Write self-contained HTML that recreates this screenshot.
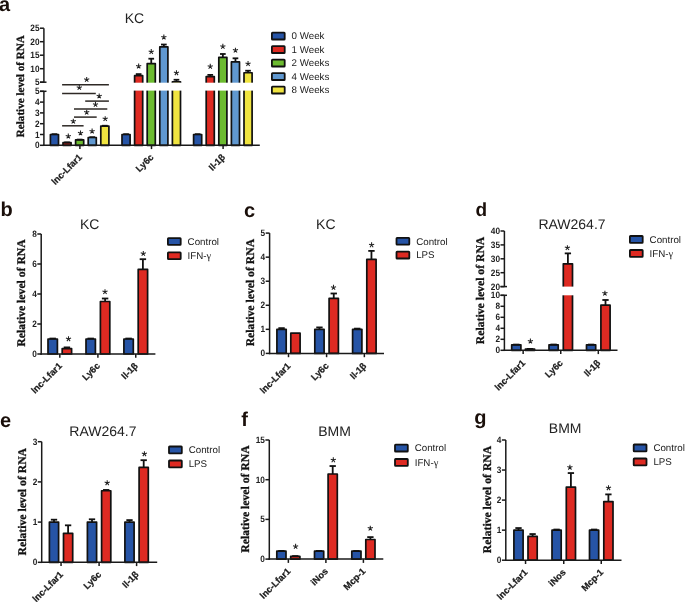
<!DOCTYPE html>
<html><head><meta charset="utf-8"><style>
html,body{margin:0;padding:0;background:#fff;}
svg{display:block;will-change:transform;}
</style></head><body>
<svg width="685" height="602" viewBox="0 0 685 602" text-rendering="geometricPrecision">
<rect width="685" height="602" fill="#fff"/>
<text x="-0.90" y="10.80" font-family="Liberation Sans" font-size="20" font-weight="bold" text-anchor="start" fill="#1a0f0a" >a</text>
<text x="134.40" y="22.80" font-family="Liberation Sans" font-size="14" font-weight="normal" text-anchor="middle" fill="#222" >KC</text>
<rect x="50.40" y="134.50" width="8.10" height="10.80" fill="#2654a6" stroke="#111" stroke-width="1.7" stroke-linejoin="round"/>
<line x1="54.45" y1="134.50" x2="54.45" y2="134.18" stroke="#111" stroke-width="1.8"/>
<line x1="51.61" y1="134.18" x2="57.29" y2="134.18" stroke="#111" stroke-width="1.8"/>
<rect x="63.00" y="142.71" width="8.10" height="2.59" fill="#de2a22" stroke="#111" stroke-width="1.7" stroke-linejoin="round"/>
<line x1="67.05" y1="142.71" x2="67.05" y2="142.38" stroke="#111" stroke-width="1.8"/>
<line x1="64.21" y1="142.38" x2="69.89" y2="142.38" stroke="#111" stroke-width="1.8"/>
<path d="M68.30 136.23L68.30 133.53M68.30 136.23L65.73 135.40M68.30 136.23L66.71 138.41M68.30 136.23L69.89 138.41M68.30 136.23L70.87 135.40" stroke="#222" stroke-width="1.05" stroke-linecap="butt" fill="none"/>
<rect x="75.60" y="139.90" width="8.10" height="5.40" fill="#6cbb30" stroke="#111" stroke-width="1.7" stroke-linejoin="round"/>
<line x1="79.65" y1="139.90" x2="79.65" y2="139.58" stroke="#111" stroke-width="1.8"/>
<line x1="76.81" y1="139.58" x2="82.49" y2="139.58" stroke="#111" stroke-width="1.8"/>
<path d="M80.50 133.13L80.50 130.43M80.50 133.13L77.93 132.30M80.50 133.13L78.91 135.31M80.50 133.13L82.09 135.31M80.50 133.13L83.07 132.30" stroke="#222" stroke-width="1.05" stroke-linecap="butt" fill="none"/>
<rect x="88.20" y="137.52" width="8.10" height="7.78" fill="#6098d0" stroke="#111" stroke-width="1.7" stroke-linejoin="round"/>
<line x1="92.25" y1="137.52" x2="92.25" y2="137.20" stroke="#111" stroke-width="1.8"/>
<line x1="89.41" y1="137.20" x2="95.09" y2="137.20" stroke="#111" stroke-width="1.8"/>
<path d="M92.10 131.23L92.10 128.53M92.10 131.23L89.53 130.40M92.10 131.23L90.51 133.41M92.10 131.23L93.69 133.41M92.10 131.23L94.67 130.40" stroke="#222" stroke-width="1.05" stroke-linecap="butt" fill="none"/>
<rect x="100.80" y="126.08" width="8.10" height="19.22" fill="#f0e440" stroke="#111" stroke-width="1.7" stroke-linejoin="round"/>
<line x1="104.85" y1="126.08" x2="104.85" y2="125.75" stroke="#111" stroke-width="1.8"/>
<line x1="102.01" y1="125.75" x2="107.69" y2="125.75" stroke="#111" stroke-width="1.8"/>
<path d="M105.20 118.83L105.20 116.13M105.20 118.83L102.63 118.00M105.20 118.83L103.61 121.01M105.20 118.83L106.79 121.01M105.20 118.83L107.77 118.00" stroke="#222" stroke-width="1.05" stroke-linecap="butt" fill="none"/>
<rect x="122.00" y="134.50" width="8.10" height="10.80" fill="#2654a6" stroke="#111" stroke-width="1.7" stroke-linejoin="round"/>
<line x1="126.05" y1="134.50" x2="126.05" y2="134.18" stroke="#111" stroke-width="1.8"/>
<line x1="123.21" y1="134.18" x2="128.89" y2="134.18" stroke="#111" stroke-width="1.8"/>
<rect x="134.60" y="75.72" width="8.10" height="69.58" fill="#de2a22" stroke="#111" stroke-width="1.7" stroke-linejoin="round"/>
<line x1="138.65" y1="75.72" x2="138.65" y2="74.10" stroke="#111" stroke-width="1.8"/>
<line x1="135.81" y1="74.10" x2="141.49" y2="74.10" stroke="#111" stroke-width="1.8"/>
<path d="M138.65 66.23L138.65 63.53M138.65 66.23L136.08 65.40M138.65 66.23L137.06 68.41M138.65 66.23L140.24 68.41M138.65 66.23L141.22 65.40" stroke="#222" stroke-width="1.05" stroke-linecap="butt" fill="none"/>
<rect x="147.20" y="63.57" width="8.10" height="81.73" fill="#6cbb30" stroke="#111" stroke-width="1.7" stroke-linejoin="round"/>
<line x1="151.25" y1="63.57" x2="151.25" y2="58.71" stroke="#111" stroke-width="1.8"/>
<line x1="148.41" y1="58.71" x2="154.09" y2="58.71" stroke="#111" stroke-width="1.8"/>
<path d="M151.25 51.73L151.25 49.03M151.25 51.73L148.68 50.90M151.25 51.73L149.66 53.91M151.25 51.73L152.84 53.91M151.25 51.73L153.82 50.90" stroke="#222" stroke-width="1.05" stroke-linecap="butt" fill="none"/>
<rect x="159.80" y="46.83" width="8.10" height="98.47" fill="#6098d0" stroke="#111" stroke-width="1.7" stroke-linejoin="round"/>
<line x1="163.85" y1="46.83" x2="163.85" y2="44.53" stroke="#111" stroke-width="1.8"/>
<line x1="161.01" y1="44.53" x2="166.69" y2="44.53" stroke="#111" stroke-width="1.8"/>
<path d="M163.85 37.23L163.85 34.53M163.85 37.23L161.28 36.40M163.85 37.23L162.26 39.41M163.85 37.23L165.44 39.41M163.85 37.23L166.42 36.40" stroke="#222" stroke-width="1.05" stroke-linecap="butt" fill="none"/>
<rect x="172.40" y="81.80" width="8.10" height="63.51" fill="#f0e440" stroke="#111" stroke-width="1.7" stroke-linejoin="round"/>
<line x1="176.45" y1="81.80" x2="176.45" y2="79.77" stroke="#111" stroke-width="1.8"/>
<line x1="173.61" y1="79.77" x2="179.29" y2="79.77" stroke="#111" stroke-width="1.8"/>
<path d="M176.45 72.93L176.45 70.23M176.45 72.93L173.88 72.10M176.45 72.93L174.86 75.11M176.45 72.93L178.04 75.11M176.45 72.93L179.02 72.10" stroke="#222" stroke-width="1.05" stroke-linecap="butt" fill="none"/>
<rect x="193.60" y="134.50" width="8.10" height="10.80" fill="#2654a6" stroke="#111" stroke-width="1.7" stroke-linejoin="round"/>
<line x1="197.65" y1="134.50" x2="197.65" y2="134.18" stroke="#111" stroke-width="1.8"/>
<line x1="194.81" y1="134.18" x2="200.49" y2="134.18" stroke="#111" stroke-width="1.8"/>
<rect x="206.20" y="76.53" width="8.10" height="68.77" fill="#de2a22" stroke="#111" stroke-width="1.7" stroke-linejoin="round"/>
<line x1="210.25" y1="76.53" x2="210.25" y2="74.91" stroke="#111" stroke-width="1.8"/>
<line x1="207.41" y1="74.91" x2="213.09" y2="74.91" stroke="#111" stroke-width="1.8"/>
<path d="M210.25 66.53L210.25 63.83M210.25 66.53L207.68 65.70M210.25 66.53L208.66 68.71M210.25 66.53L211.84 68.71M210.25 66.53L212.82 65.70" stroke="#222" stroke-width="1.05" stroke-linecap="butt" fill="none"/>
<rect x="218.80" y="57.36" width="8.10" height="87.94" fill="#6cbb30" stroke="#111" stroke-width="1.7" stroke-linejoin="round"/>
<line x1="222.85" y1="57.36" x2="222.85" y2="53.99" stroke="#111" stroke-width="1.8"/>
<line x1="220.01" y1="53.99" x2="225.69" y2="53.99" stroke="#111" stroke-width="1.8"/>
<path d="M222.85 46.53L222.85 43.83M222.85 46.53L220.28 45.70M222.85 46.53L221.26 48.71M222.85 46.53L224.44 48.71M222.85 46.53L225.42 45.70" stroke="#222" stroke-width="1.05" stroke-linecap="butt" fill="none"/>
<rect x="231.40" y="61.95" width="8.10" height="83.35" fill="#6098d0" stroke="#111" stroke-width="1.7" stroke-linejoin="round"/>
<line x1="235.45" y1="61.95" x2="235.45" y2="58.31" stroke="#111" stroke-width="1.8"/>
<line x1="232.61" y1="58.31" x2="238.29" y2="58.31" stroke="#111" stroke-width="1.8"/>
<path d="M235.45 50.33L235.45 47.63M235.45 50.33L232.88 49.50M235.45 50.33L233.86 52.51M235.45 50.33L237.04 52.51M235.45 50.33L238.02 49.50" stroke="#222" stroke-width="1.05" stroke-linecap="butt" fill="none"/>
<rect x="244.00" y="72.75" width="8.10" height="72.55" fill="#f0e440" stroke="#111" stroke-width="1.7" stroke-linejoin="round"/>
<line x1="248.05" y1="72.75" x2="248.05" y2="70.73" stroke="#111" stroke-width="1.8"/>
<line x1="245.21" y1="70.73" x2="250.89" y2="70.73" stroke="#111" stroke-width="1.8"/>
<path d="M248.05 63.73L248.05 61.03M248.05 63.73L245.48 62.90M248.05 63.73L246.46 65.91M248.05 63.73L249.64 65.91M248.05 63.73L250.62 62.90" stroke="#222" stroke-width="1.05" stroke-linecap="butt" fill="none"/>
<rect x="115.00" y="82.70" width="143.00" height="7.90" fill="#fff"/>
<line x1="43.90" y1="146.05" x2="43.90" y2="91.30" stroke="#1a1a1a" stroke-width="1.5"/>
<line x1="43.90" y1="82.20" x2="43.90" y2="28.20" stroke="#1a1a1a" stroke-width="1.5"/>
<line x1="40.00" y1="91.30" x2="46.50" y2="91.30" stroke="#1a1a1a" stroke-width="1.5"/>
<line x1="40.00" y1="82.20" x2="46.50" y2="82.20" stroke="#1a1a1a" stroke-width="1.5"/>
<line x1="40.00" y1="145.30" x2="43.90" y2="145.30" stroke="#1a1a1a" stroke-width="1.5"/>
<text x="0" y="0" font-family="Liberation Sans" font-size="9.2" font-weight="bold" text-anchor="end" fill="#222" transform="translate(39.50 148.38) scale(0.9 1)">0</text>
<line x1="40.00" y1="134.50" x2="43.90" y2="134.50" stroke="#1a1a1a" stroke-width="1.5"/>
<text x="0" y="0" font-family="Liberation Sans" font-size="9.2" font-weight="bold" text-anchor="end" fill="#222" transform="translate(39.50 137.58) scale(0.9 1)">1</text>
<line x1="40.00" y1="123.70" x2="43.90" y2="123.70" stroke="#1a1a1a" stroke-width="1.5"/>
<text x="0" y="0" font-family="Liberation Sans" font-size="9.2" font-weight="bold" text-anchor="end" fill="#222" transform="translate(39.50 126.78) scale(0.9 1)">2</text>
<line x1="40.00" y1="112.90" x2="43.90" y2="112.90" stroke="#1a1a1a" stroke-width="1.5"/>
<text x="0" y="0" font-family="Liberation Sans" font-size="9.2" font-weight="bold" text-anchor="end" fill="#222" transform="translate(39.50 115.98) scale(0.9 1)">3</text>
<line x1="40.00" y1="102.10" x2="43.90" y2="102.10" stroke="#1a1a1a" stroke-width="1.5"/>
<text x="0" y="0" font-family="Liberation Sans" font-size="9.2" font-weight="bold" text-anchor="end" fill="#222" transform="translate(39.50 105.18) scale(0.9 1)">4</text>
<line x1="40.00" y1="91.30" x2="43.90" y2="91.30" stroke="#1a1a1a" stroke-width="1.5"/>
<text x="0" y="0" font-family="Liberation Sans" font-size="9.2" font-weight="bold" text-anchor="end" fill="#222" transform="translate(39.50 94.38) scale(0.9 1)">5</text>
<line x1="40.00" y1="82.20" x2="43.90" y2="82.20" stroke="#1a1a1a" stroke-width="1.5"/>
<text x="0" y="0" font-family="Liberation Sans" font-size="9.2" font-weight="bold" text-anchor="end" fill="#222" transform="translate(39.50 85.28) scale(0.9 1)">5</text>
<line x1="40.00" y1="68.70" x2="43.90" y2="68.70" stroke="#1a1a1a" stroke-width="1.5"/>
<text x="0" y="0" font-family="Liberation Sans" font-size="9.2" font-weight="bold" text-anchor="end" fill="#222" transform="translate(39.50 71.78) scale(0.9 1)">10</text>
<line x1="40.00" y1="55.20" x2="43.90" y2="55.20" stroke="#1a1a1a" stroke-width="1.5"/>
<text x="0" y="0" font-family="Liberation Sans" font-size="9.2" font-weight="bold" text-anchor="end" fill="#222" transform="translate(39.50 58.28) scale(0.9 1)">15</text>
<line x1="40.00" y1="41.70" x2="43.90" y2="41.70" stroke="#1a1a1a" stroke-width="1.5"/>
<text x="0" y="0" font-family="Liberation Sans" font-size="9.2" font-weight="bold" text-anchor="end" fill="#222" transform="translate(39.50 44.78) scale(0.9 1)">20</text>
<line x1="40.00" y1="28.20" x2="43.90" y2="28.20" stroke="#1a1a1a" stroke-width="1.5"/>
<text x="0" y="0" font-family="Liberation Sans" font-size="9.2" font-weight="bold" text-anchor="end" fill="#222" transform="translate(39.50 31.28) scale(0.9 1)">25</text>
<line x1="43.15" y1="145.30" x2="259.80" y2="145.30" stroke="#1a1a1a" stroke-width="1.5"/>
<line x1="79.90" y1="145.30" x2="79.90" y2="149.10" stroke="#1a1a1a" stroke-width="1.5"/>
<text x="82.60" y="157.80" font-family="Liberation Sans" font-size="9.2" font-weight="bold" text-anchor="end" fill="#1a1a1a" stroke="#1a1a1a" stroke-width="0.25" transform="rotate(-45 82.60 157.80)">lnc-Lfar1</text>
<line x1="151.50" y1="145.30" x2="151.50" y2="149.10" stroke="#1a1a1a" stroke-width="1.5"/>
<text x="154.20" y="157.80" font-family="Liberation Sans" font-size="9.2" font-weight="bold" text-anchor="end" fill="#1a1a1a" stroke="#1a1a1a" stroke-width="0.25" transform="rotate(-45 154.20 157.80)">Ly6c</text>
<line x1="223.10" y1="145.30" x2="223.10" y2="149.10" stroke="#1a1a1a" stroke-width="1.5"/>
<text x="225.80" y="157.80" font-family="Liberation Sans" font-size="9.2" font-weight="bold" text-anchor="end" fill="#1a1a1a" stroke="#1a1a1a" stroke-width="0.25" transform="rotate(-45 225.80 157.80)">Il-1&#946;</text>
<line x1="62.10" y1="84.70" x2="108.90" y2="84.70" stroke="#2e2925" stroke-width="1.5"/>
<line x1="62.10" y1="93.40" x2="95.80" y2="93.40" stroke="#2e2925" stroke-width="1.5"/>
<line x1="85.20" y1="101.10" x2="108.90" y2="101.10" stroke="#2e2925" stroke-width="1.5"/>
<line x1="74.00" y1="109.00" x2="107.30" y2="109.00" stroke="#2e2925" stroke-width="1.5"/>
<line x1="74.00" y1="117.10" x2="96.70" y2="117.10" stroke="#2e2925" stroke-width="1.5"/>
<line x1="62.10" y1="125.80" x2="83.60" y2="125.80" stroke="#2e2925" stroke-width="1.5"/>
<path d="M86.70 79.63L86.70 76.93M86.70 79.63L84.13 78.80M86.70 79.63L85.11 81.81M86.70 79.63L88.29 81.81M86.70 79.63L89.27 78.80" stroke="#222" stroke-width="1.05" stroke-linecap="butt" fill="none"/>
<path d="M79.30 87.63L79.30 84.93M79.30 87.63L76.73 86.80M79.30 87.63L77.71 89.81M79.30 87.63L80.89 89.81M79.30 87.63L81.87 86.80" stroke="#222" stroke-width="1.05" stroke-linecap="butt" fill="none"/>
<path d="M99.20 96.13L99.20 93.43M99.20 96.13L96.63 95.30M99.20 96.13L97.61 98.31M99.20 96.13L100.79 98.31M99.20 96.13L101.77 95.30" stroke="#222" stroke-width="1.05" stroke-linecap="butt" fill="none"/>
<path d="M95.50 104.53L95.50 101.83M95.50 104.53L92.93 103.70M95.50 104.53L93.91 106.71M95.50 104.53L97.09 106.71M95.50 104.53L98.07 103.70" stroke="#222" stroke-width="1.05" stroke-linecap="butt" fill="none"/>
<path d="M86.70 112.33L86.70 109.63M86.70 112.33L84.13 111.50M86.70 112.33L85.11 114.51M86.70 112.33L88.29 114.51M86.70 112.33L89.27 111.50" stroke="#222" stroke-width="1.05" stroke-linecap="butt" fill="none"/>
<path d="M73.30 121.33L73.30 118.63M73.30 121.33L70.73 120.50M73.30 121.33L71.71 123.51M73.30 121.33L74.89 123.51M73.30 121.33L75.87 120.50" stroke="#222" stroke-width="1.05" stroke-linecap="butt" fill="none"/>
<text x="24.10" y="86.20" font-family="Liberation Serif" font-size="11.1" font-weight="bold" text-anchor="middle" fill="#111" stroke="#111" stroke-width="0.3" transform="rotate(-90 24.10 86.20)">Relative level of RNA</text>
<rect x="271.90" y="32.70" width="12.80" height="6.80" rx="0.6" fill="#2654a6" stroke="#111" stroke-width="1.8"/>
<text x="291.60" y="39.40" font-family="Liberation Sans" font-size="9.75" font-weight="normal" text-anchor="start" fill="#222" >0 Week</text>
<rect x="271.90" y="46.20" width="12.80" height="6.80" rx="0.6" fill="#de2a22" stroke="#111" stroke-width="1.8"/>
<text x="291.60" y="52.90" font-family="Liberation Sans" font-size="9.75" font-weight="normal" text-anchor="start" fill="#222" >1 Week</text>
<rect x="271.90" y="59.70" width="12.80" height="6.80" rx="0.6" fill="#6cbb30" stroke="#111" stroke-width="1.8"/>
<text x="291.60" y="66.40" font-family="Liberation Sans" font-size="9.75" font-weight="normal" text-anchor="start" fill="#222" >2 Weeks</text>
<rect x="271.90" y="73.20" width="12.80" height="6.80" rx="0.6" fill="#6098d0" stroke="#111" stroke-width="1.8"/>
<text x="291.60" y="79.90" font-family="Liberation Sans" font-size="9.75" font-weight="normal" text-anchor="start" fill="#222" >4 Weeks</text>
<rect x="271.90" y="86.70" width="12.80" height="6.80" rx="0.6" fill="#f0e440" stroke="#111" stroke-width="1.8"/>
<text x="291.60" y="93.40" font-family="Liberation Sans" font-size="9.75" font-weight="normal" text-anchor="start" fill="#222" >8 Weeks</text>
<text x="0.40" y="215.80" font-family="Liberation Sans" font-size="20" font-weight="bold" text-anchor="start" fill="#1a0f0a" >b</text>
<text x="89.70" y="228.90" font-family="Liberation Sans" font-size="14" font-weight="normal" text-anchor="middle" fill="#222" >KC</text>
<rect x="48.00" y="339.00" width="9.40" height="15.00" fill="#2654a6" stroke="#111" stroke-width="1.7" stroke-linejoin="round"/>
<line x1="52.70" y1="339.00" x2="52.70" y2="338.55" stroke="#111" stroke-width="1.8"/>
<line x1="49.48" y1="338.55" x2="55.92" y2="338.55" stroke="#111" stroke-width="1.8"/>
<rect x="62.20" y="348.60" width="9.40" height="5.40" fill="#de2a22" stroke="#111" stroke-width="1.7" stroke-linejoin="round"/>
<line x1="66.90" y1="348.60" x2="66.90" y2="347.40" stroke="#111" stroke-width="1.8"/>
<line x1="63.68" y1="347.40" x2="70.12" y2="347.40" stroke="#111" stroke-width="1.8"/>
<path d="M68.50 338.93L68.50 336.23M68.50 338.93L65.93 338.10M68.50 338.93L66.91 341.11M68.50 338.93L70.09 341.11M68.50 338.93L71.07 338.10" stroke="#222" stroke-width="1.05" stroke-linecap="butt" fill="none"/>
<rect x="86.00" y="339.00" width="9.40" height="15.00" fill="#2654a6" stroke="#111" stroke-width="1.7" stroke-linejoin="round"/>
<line x1="90.70" y1="339.00" x2="90.70" y2="338.55" stroke="#111" stroke-width="1.8"/>
<line x1="87.48" y1="338.55" x2="93.92" y2="338.55" stroke="#111" stroke-width="1.8"/>
<rect x="100.40" y="301.50" width="9.40" height="52.50" fill="#de2a22" stroke="#111" stroke-width="1.7" stroke-linejoin="round"/>
<line x1="105.10" y1="301.50" x2="105.10" y2="298.50" stroke="#111" stroke-width="1.8"/>
<line x1="101.88" y1="298.50" x2="108.32" y2="298.50" stroke="#111" stroke-width="1.8"/>
<path d="M105.00 291.83L105.00 289.13M105.00 291.83L102.43 291.00M105.00 291.83L103.41 294.01M105.00 291.83L106.59 294.01M105.00 291.83L107.57 291.00" stroke="#222" stroke-width="1.05" stroke-linecap="butt" fill="none"/>
<rect x="123.90" y="339.00" width="9.40" height="15.00" fill="#2654a6" stroke="#111" stroke-width="1.7" stroke-linejoin="round"/>
<line x1="128.60" y1="339.00" x2="128.60" y2="338.55" stroke="#111" stroke-width="1.8"/>
<line x1="125.38" y1="338.55" x2="131.82" y2="338.55" stroke="#111" stroke-width="1.8"/>
<rect x="138.20" y="269.40" width="9.40" height="84.60" fill="#de2a22" stroke="#111" stroke-width="1.7" stroke-linejoin="round"/>
<line x1="142.90" y1="269.40" x2="142.90" y2="259.20" stroke="#111" stroke-width="1.8"/>
<line x1="139.68" y1="259.20" x2="146.12" y2="259.20" stroke="#111" stroke-width="1.8"/>
<path d="M143.30 253.63L143.30 250.93M143.30 253.63L140.73 252.80M143.30 253.63L141.71 255.81M143.30 253.63L144.89 255.81M143.30 253.63L145.87 252.80" stroke="#222" stroke-width="1.05" stroke-linecap="butt" fill="none"/>
<line x1="41.20" y1="354.75" x2="41.20" y2="234.00" stroke="#1a1a1a" stroke-width="1.5"/>
<line x1="37.30" y1="354.00" x2="41.20" y2="354.00" stroke="#1a1a1a" stroke-width="1.5"/>
<text x="0" y="0" font-family="Liberation Sans" font-size="9.2" font-weight="bold" text-anchor="end" fill="#222" transform="translate(36.80 357.08) scale(0.9 1)">0</text>
<line x1="37.30" y1="324.00" x2="41.20" y2="324.00" stroke="#1a1a1a" stroke-width="1.5"/>
<text x="0" y="0" font-family="Liberation Sans" font-size="9.2" font-weight="bold" text-anchor="end" fill="#222" transform="translate(36.80 327.08) scale(0.9 1)">2</text>
<line x1="37.30" y1="294.00" x2="41.20" y2="294.00" stroke="#1a1a1a" stroke-width="1.5"/>
<text x="0" y="0" font-family="Liberation Sans" font-size="9.2" font-weight="bold" text-anchor="end" fill="#222" transform="translate(36.80 297.08) scale(0.9 1)">4</text>
<line x1="37.30" y1="264.00" x2="41.20" y2="264.00" stroke="#1a1a1a" stroke-width="1.5"/>
<text x="0" y="0" font-family="Liberation Sans" font-size="9.2" font-weight="bold" text-anchor="end" fill="#222" transform="translate(36.80 267.08) scale(0.9 1)">6</text>
<line x1="37.30" y1="234.00" x2="41.20" y2="234.00" stroke="#1a1a1a" stroke-width="1.5"/>
<text x="0" y="0" font-family="Liberation Sans" font-size="9.2" font-weight="bold" text-anchor="end" fill="#222" transform="translate(36.80 237.08) scale(0.9 1)">8</text>
<line x1="40.45" y1="354.00" x2="155.40" y2="354.00" stroke="#1a1a1a" stroke-width="1.5"/>
<line x1="59.80" y1="354.00" x2="59.80" y2="357.80" stroke="#1a1a1a" stroke-width="1.5"/>
<text x="62.50" y="366.50" font-family="Liberation Sans" font-size="9.2" font-weight="bold" text-anchor="end" fill="#1a1a1a" stroke="#1a1a1a" stroke-width="0.25" transform="rotate(-45 62.50 366.50)">lnc-Lfar1</text>
<line x1="97.90" y1="354.00" x2="97.90" y2="357.80" stroke="#1a1a1a" stroke-width="1.5"/>
<text x="100.60" y="366.50" font-family="Liberation Sans" font-size="9.2" font-weight="bold" text-anchor="end" fill="#1a1a1a" stroke="#1a1a1a" stroke-width="0.25" transform="rotate(-45 100.60 366.50)">Ly6c</text>
<line x1="135.75" y1="354.00" x2="135.75" y2="357.80" stroke="#1a1a1a" stroke-width="1.5"/>
<text x="138.45" y="366.50" font-family="Liberation Sans" font-size="9.2" font-weight="bold" text-anchor="end" fill="#1a1a1a" stroke="#1a1a1a" stroke-width="0.25" transform="rotate(-45 138.45 366.50)">Il-1&#946;</text>
<text x="24.90" y="293.00" font-family="Liberation Serif" font-size="11.7" font-weight="bold" text-anchor="middle" fill="#111" stroke="#111" stroke-width="0.3" transform="rotate(-90 24.90 293.00)">Relative level of RNA</text>
<rect x="167.90" y="238.10" width="12.80" height="6.80" rx="0.6" fill="#2654a6" stroke="#111" stroke-width="1.8"/>
<text x="187.60" y="244.80" font-family="Liberation Sans" font-size="9.75" font-weight="normal" text-anchor="start" fill="#222" >Control</text>
<rect x="167.90" y="252.40" width="12.80" height="6.80" rx="0.6" fill="#de2a22" stroke="#111" stroke-width="1.8"/>
<text x="187.60" y="259.10" font-family="Liberation Sans" font-size="9.75" font-weight="normal" text-anchor="start" fill="#222" >IFN-<tspan font-family="Liberation Serif" font-size="10.5">&#947;</tspan></text>
<text x="244.00" y="216.80" font-family="Liberation Sans" font-size="20" font-weight="bold" text-anchor="start" fill="#1a0f0a" >c</text>
<text x="325.80" y="228.80" font-family="Liberation Sans" font-size="14" font-weight="normal" text-anchor="middle" fill="#222" >KC</text>
<rect x="276.90" y="329.34" width="9.30" height="24.06" fill="#2654a6" stroke="#111" stroke-width="1.7" stroke-linejoin="round"/>
<line x1="281.55" y1="329.34" x2="281.55" y2="328.14" stroke="#111" stroke-width="1.8"/>
<line x1="278.36" y1="328.14" x2="284.74" y2="328.14" stroke="#111" stroke-width="1.8"/>
<rect x="290.80" y="333.19" width="9.30" height="20.21" fill="#de2a22" stroke="#111" stroke-width="1.7" stroke-linejoin="round"/>
<rect x="314.80" y="329.34" width="9.30" height="24.06" fill="#2654a6" stroke="#111" stroke-width="1.7" stroke-linejoin="round"/>
<line x1="319.45" y1="329.34" x2="319.45" y2="327.42" stroke="#111" stroke-width="1.8"/>
<line x1="316.26" y1="327.42" x2="322.64" y2="327.42" stroke="#111" stroke-width="1.8"/>
<rect x="329.10" y="298.30" width="9.30" height="55.10" fill="#de2a22" stroke="#111" stroke-width="1.7" stroke-linejoin="round"/>
<line x1="333.75" y1="298.30" x2="333.75" y2="293.49" stroke="#111" stroke-width="1.8"/>
<line x1="330.56" y1="293.49" x2="336.94" y2="293.49" stroke="#111" stroke-width="1.8"/>
<path d="M333.50 287.53L333.50 284.83M333.50 287.53L330.93 286.70M333.50 287.53L331.91 289.71M333.50 287.53L335.09 289.71M333.50 287.53L336.07 286.70" stroke="#222" stroke-width="1.05" stroke-linecap="butt" fill="none"/>
<rect x="352.60" y="329.34" width="9.30" height="24.06" fill="#2654a6" stroke="#111" stroke-width="1.7" stroke-linejoin="round"/>
<line x1="357.25" y1="329.34" x2="357.25" y2="328.62" stroke="#111" stroke-width="1.8"/>
<line x1="354.06" y1="328.62" x2="360.44" y2="328.62" stroke="#111" stroke-width="1.8"/>
<rect x="366.80" y="259.33" width="9.30" height="94.07" fill="#de2a22" stroke="#111" stroke-width="1.7" stroke-linejoin="round"/>
<line x1="371.45" y1="259.33" x2="371.45" y2="250.90" stroke="#111" stroke-width="1.8"/>
<line x1="368.26" y1="250.90" x2="374.64" y2="250.90" stroke="#111" stroke-width="1.8"/>
<path d="M371.60 245.03L371.60 242.33M371.60 245.03L369.03 244.20M371.60 245.03L370.01 247.21M371.60 245.03L373.19 247.21M371.60 245.03L374.17 244.20" stroke="#222" stroke-width="1.05" stroke-linecap="butt" fill="none"/>
<line x1="269.60" y1="354.15" x2="269.60" y2="233.10" stroke="#1a1a1a" stroke-width="1.5"/>
<line x1="265.70" y1="353.40" x2="269.60" y2="353.40" stroke="#1a1a1a" stroke-width="1.5"/>
<text x="0" y="0" font-family="Liberation Sans" font-size="9.2" font-weight="bold" text-anchor="end" fill="#222" transform="translate(265.20 356.48) scale(0.9 1)">0</text>
<line x1="265.70" y1="329.34" x2="269.60" y2="329.34" stroke="#1a1a1a" stroke-width="1.5"/>
<text x="0" y="0" font-family="Liberation Sans" font-size="9.2" font-weight="bold" text-anchor="end" fill="#222" transform="translate(265.20 332.42) scale(0.9 1)">1</text>
<line x1="265.70" y1="305.28" x2="269.60" y2="305.28" stroke="#1a1a1a" stroke-width="1.5"/>
<text x="0" y="0" font-family="Liberation Sans" font-size="9.2" font-weight="bold" text-anchor="end" fill="#222" transform="translate(265.20 308.36) scale(0.9 1)">2</text>
<line x1="265.70" y1="281.22" x2="269.60" y2="281.22" stroke="#1a1a1a" stroke-width="1.5"/>
<text x="0" y="0" font-family="Liberation Sans" font-size="9.2" font-weight="bold" text-anchor="end" fill="#222" transform="translate(265.20 284.30) scale(0.9 1)">3</text>
<line x1="265.70" y1="257.16" x2="269.60" y2="257.16" stroke="#1a1a1a" stroke-width="1.5"/>
<text x="0" y="0" font-family="Liberation Sans" font-size="9.2" font-weight="bold" text-anchor="end" fill="#222" transform="translate(265.20 260.24) scale(0.9 1)">4</text>
<line x1="265.70" y1="233.10" x2="269.60" y2="233.10" stroke="#1a1a1a" stroke-width="1.5"/>
<text x="0" y="0" font-family="Liberation Sans" font-size="9.2" font-weight="bold" text-anchor="end" fill="#222" transform="translate(265.20 236.18) scale(0.9 1)">5</text>
<line x1="268.85" y1="353.40" x2="384.00" y2="353.40" stroke="#1a1a1a" stroke-width="1.5"/>
<line x1="288.50" y1="353.40" x2="288.50" y2="357.20" stroke="#1a1a1a" stroke-width="1.5"/>
<text x="291.20" y="366.50" font-family="Liberation Sans" font-size="9.2" font-weight="bold" text-anchor="end" fill="#1a1a1a" stroke="#1a1a1a" stroke-width="0.25" transform="rotate(-45 291.20 366.50)">lnc-Lfar1</text>
<line x1="326.60" y1="353.40" x2="326.60" y2="357.20" stroke="#1a1a1a" stroke-width="1.5"/>
<text x="329.30" y="366.50" font-family="Liberation Sans" font-size="9.2" font-weight="bold" text-anchor="end" fill="#1a1a1a" stroke="#1a1a1a" stroke-width="0.25" transform="rotate(-45 329.30 366.50)">Ly6c</text>
<line x1="364.35" y1="353.40" x2="364.35" y2="357.20" stroke="#1a1a1a" stroke-width="1.5"/>
<text x="367.05" y="366.50" font-family="Liberation Sans" font-size="9.2" font-weight="bold" text-anchor="end" fill="#1a1a1a" stroke="#1a1a1a" stroke-width="0.25" transform="rotate(-45 367.05 366.50)">Il-1&#946;</text>
<text x="254.20" y="292.60" font-family="Liberation Serif" font-size="11.7" font-weight="bold" text-anchor="middle" fill="#111" stroke="#111" stroke-width="0.3" transform="rotate(-90 254.20 292.60)">Relative level of RNA</text>
<rect x="396.50" y="237.80" width="12.80" height="6.80" rx="0.6" fill="#2654a6" stroke="#111" stroke-width="1.8"/>
<text x="416.20" y="244.50" font-family="Liberation Sans" font-size="9.75" font-weight="normal" text-anchor="start" fill="#222" >Control</text>
<rect x="396.50" y="251.70" width="12.80" height="6.80" rx="0.6" fill="#de2a22" stroke="#111" stroke-width="1.8"/>
<text x="416.20" y="258.40" font-family="Liberation Sans" font-size="9.75" font-weight="normal" text-anchor="start" fill="#222" >LPS</text>
<text x="475.40" y="216.20" font-family="Liberation Sans" font-size="19" font-weight="bold" text-anchor="start" fill="#1a0f0a" >d</text>
<text x="572.00" y="228.80" font-family="Liberation Sans" font-size="14" font-weight="normal" text-anchor="middle" fill="#222" >RAW264.7</text>
<rect x="511.70" y="344.80" width="9.20" height="5.50" fill="#2654a6" stroke="#111" stroke-width="1.7" stroke-linejoin="round"/>
<line x1="516.30" y1="344.80" x2="516.30" y2="344.58" stroke="#111" stroke-width="1.8"/>
<line x1="513.14" y1="344.58" x2="519.46" y2="344.58" stroke="#111" stroke-width="1.8"/>
<rect x="525.40" y="348.98" width="9.20" height="1.32" fill="#de2a22" stroke="#111" stroke-width="1.7" stroke-linejoin="round"/>
<line x1="530.00" y1="348.98" x2="530.00" y2="348.87" stroke="#111" stroke-width="1.8"/>
<line x1="526.84" y1="348.87" x2="533.16" y2="348.87" stroke="#111" stroke-width="1.8"/>
<path d="M530.40 341.23L530.40 338.53M530.40 341.23L527.83 340.40M530.40 341.23L528.81 343.41M530.40 341.23L531.99 343.41M530.40 341.23L532.97 340.40" stroke="#222" stroke-width="1.05" stroke-linecap="butt" fill="none"/>
<rect x="549.00" y="344.80" width="9.20" height="5.50" fill="#2654a6" stroke="#111" stroke-width="1.7" stroke-linejoin="round"/>
<line x1="553.60" y1="344.80" x2="553.60" y2="344.53" stroke="#111" stroke-width="1.8"/>
<line x1="550.44" y1="344.53" x2="556.76" y2="344.53" stroke="#111" stroke-width="1.8"/>
<rect x="563.30" y="263.80" width="9.20" height="86.50" fill="#de2a22" stroke="#111" stroke-width="1.7" stroke-linejoin="round"/>
<line x1="567.90" y1="263.80" x2="567.90" y2="253.38" stroke="#111" stroke-width="1.8"/>
<line x1="564.74" y1="253.38" x2="571.06" y2="253.38" stroke="#111" stroke-width="1.8"/>
<path d="M567.40 247.83L567.40 245.13M567.40 247.83L564.83 247.00M567.40 247.83L565.81 250.01M567.40 247.83L568.99 250.01M567.40 247.83L569.97 247.00" stroke="#222" stroke-width="1.05" stroke-linecap="butt" fill="none"/>
<rect x="586.50" y="344.80" width="9.20" height="5.50" fill="#2654a6" stroke="#111" stroke-width="1.7" stroke-linejoin="round"/>
<line x1="591.10" y1="344.80" x2="591.10" y2="344.58" stroke="#111" stroke-width="1.8"/>
<line x1="587.94" y1="344.58" x2="594.26" y2="344.58" stroke="#111" stroke-width="1.8"/>
<rect x="600.90" y="305.20" width="9.20" height="45.10" fill="#de2a22" stroke="#111" stroke-width="1.7" stroke-linejoin="round"/>
<line x1="605.50" y1="305.20" x2="605.50" y2="299.98" stroke="#111" stroke-width="1.8"/>
<line x1="602.34" y1="299.98" x2="608.66" y2="299.98" stroke="#111" stroke-width="1.8"/>
<path d="M604.90 293.33L604.90 290.63M604.90 293.33L602.33 292.50M604.90 293.33L603.31 295.51M604.90 293.33L606.49 295.51M604.90 293.33L607.47 292.50" stroke="#222" stroke-width="1.05" stroke-linecap="butt" fill="none"/>
<rect x="560.00" y="286.60" width="16.00" height="8.70" fill="#fff"/>
<line x1="504.40" y1="351.05" x2="504.40" y2="295.30" stroke="#1a1a1a" stroke-width="1.5"/>
<line x1="504.40" y1="286.60" x2="504.40" y2="231.00" stroke="#1a1a1a" stroke-width="1.5"/>
<line x1="500.50" y1="295.30" x2="507.00" y2="295.30" stroke="#1a1a1a" stroke-width="1.5"/>
<line x1="500.50" y1="286.60" x2="507.00" y2="286.60" stroke="#1a1a1a" stroke-width="1.5"/>
<line x1="500.50" y1="350.30" x2="504.40" y2="350.30" stroke="#1a1a1a" stroke-width="1.5"/>
<text x="0" y="0" font-family="Liberation Sans" font-size="9.2" font-weight="bold" text-anchor="end" fill="#222" transform="translate(500.00 353.38) scale(0.9 1)">0</text>
<line x1="500.50" y1="339.30" x2="504.40" y2="339.30" stroke="#1a1a1a" stroke-width="1.5"/>
<text x="0" y="0" font-family="Liberation Sans" font-size="9.2" font-weight="bold" text-anchor="end" fill="#222" transform="translate(500.00 342.38) scale(0.9 1)">2</text>
<line x1="500.50" y1="328.30" x2="504.40" y2="328.30" stroke="#1a1a1a" stroke-width="1.5"/>
<text x="0" y="0" font-family="Liberation Sans" font-size="9.2" font-weight="bold" text-anchor="end" fill="#222" transform="translate(500.00 331.38) scale(0.9 1)">4</text>
<line x1="500.50" y1="317.30" x2="504.40" y2="317.30" stroke="#1a1a1a" stroke-width="1.5"/>
<text x="0" y="0" font-family="Liberation Sans" font-size="9.2" font-weight="bold" text-anchor="end" fill="#222" transform="translate(500.00 320.38) scale(0.9 1)">6</text>
<line x1="500.50" y1="306.30" x2="504.40" y2="306.30" stroke="#1a1a1a" stroke-width="1.5"/>
<text x="0" y="0" font-family="Liberation Sans" font-size="9.2" font-weight="bold" text-anchor="end" fill="#222" transform="translate(500.00 309.38) scale(0.9 1)">8</text>
<line x1="500.50" y1="295.30" x2="504.40" y2="295.30" stroke="#1a1a1a" stroke-width="1.5"/>
<text x="0" y="0" font-family="Liberation Sans" font-size="9.2" font-weight="bold" text-anchor="end" fill="#222" transform="translate(500.00 298.38) scale(0.9 1)">10</text>
<line x1="500.50" y1="286.60" x2="504.40" y2="286.60" stroke="#1a1a1a" stroke-width="1.5"/>
<text x="0" y="0" font-family="Liberation Sans" font-size="9.2" font-weight="bold" text-anchor="end" fill="#222" transform="translate(500.00 289.68) scale(0.9 1)">20</text>
<line x1="500.50" y1="272.70" x2="504.40" y2="272.70" stroke="#1a1a1a" stroke-width="1.5"/>
<text x="0" y="0" font-family="Liberation Sans" font-size="9.2" font-weight="bold" text-anchor="end" fill="#222" transform="translate(500.00 275.78) scale(0.9 1)">25</text>
<line x1="500.50" y1="258.80" x2="504.40" y2="258.80" stroke="#1a1a1a" stroke-width="1.5"/>
<text x="0" y="0" font-family="Liberation Sans" font-size="9.2" font-weight="bold" text-anchor="end" fill="#222" transform="translate(500.00 261.88) scale(0.9 1)">30</text>
<line x1="500.50" y1="244.90" x2="504.40" y2="244.90" stroke="#1a1a1a" stroke-width="1.5"/>
<text x="0" y="0" font-family="Liberation Sans" font-size="9.2" font-weight="bold" text-anchor="end" fill="#222" transform="translate(500.00 247.98) scale(0.9 1)">35</text>
<line x1="500.50" y1="231.00" x2="504.40" y2="231.00" stroke="#1a1a1a" stroke-width="1.5"/>
<text x="0" y="0" font-family="Liberation Sans" font-size="9.2" font-weight="bold" text-anchor="end" fill="#222" transform="translate(500.00 234.08) scale(0.9 1)">40</text>
<line x1="503.65" y1="350.30" x2="617.50" y2="350.30" stroke="#1a1a1a" stroke-width="1.5"/>
<line x1="523.15" y1="350.30" x2="523.15" y2="354.10" stroke="#1a1a1a" stroke-width="1.5"/>
<text x="525.85" y="363.60" font-family="Liberation Sans" font-size="9.2" font-weight="bold" text-anchor="end" fill="#1a1a1a" stroke="#1a1a1a" stroke-width="0.25" transform="rotate(-45 525.85 363.60)">lnc-Lfar1</text>
<line x1="560.75" y1="350.30" x2="560.75" y2="354.10" stroke="#1a1a1a" stroke-width="1.5"/>
<text x="563.45" y="363.60" font-family="Liberation Sans" font-size="9.2" font-weight="bold" text-anchor="end" fill="#1a1a1a" stroke="#1a1a1a" stroke-width="0.25" transform="rotate(-45 563.45 363.60)">Ly6c</text>
<line x1="598.30" y1="350.30" x2="598.30" y2="354.10" stroke="#1a1a1a" stroke-width="1.5"/>
<text x="601.00" y="363.60" font-family="Liberation Sans" font-size="9.2" font-weight="bold" text-anchor="end" fill="#1a1a1a" stroke="#1a1a1a" stroke-width="0.25" transform="rotate(-45 601.00 363.60)">Il-1&#946;</text>
<text x="483.60" y="290.40" font-family="Liberation Serif" font-size="11.7" font-weight="bold" text-anchor="middle" fill="#111" stroke="#111" stroke-width="0.3" transform="rotate(-90 483.60 290.40)">Relative level of RNA</text>
<rect x="629.90" y="236.00" width="12.80" height="6.80" rx="0.6" fill="#2654a6" stroke="#111" stroke-width="1.8"/>
<text x="649.60" y="242.70" font-family="Liberation Sans" font-size="9.75" font-weight="normal" text-anchor="start" fill="#222" >Control</text>
<rect x="629.90" y="250.00" width="12.80" height="6.80" rx="0.6" fill="#de2a22" stroke="#111" stroke-width="1.8"/>
<text x="649.60" y="256.70" font-family="Liberation Sans" font-size="9.75" font-weight="normal" text-anchor="start" fill="#222" >IFN-<tspan font-family="Liberation Serif" font-size="10.5">&#947;</tspan></text>
<text x="0.00" y="426.80" font-family="Liberation Sans" font-size="20" font-weight="bold" text-anchor="start" fill="#1a0f0a" >e</text>
<text x="102.90" y="435.90" font-family="Liberation Sans" font-size="14" font-weight="normal" text-anchor="middle" fill="#222" >RAW264.7</text>
<rect x="49.40" y="522.10" width="9.20" height="40.20" fill="#2654a6" stroke="#111" stroke-width="1.7" stroke-linejoin="round"/>
<line x1="54.00" y1="522.10" x2="54.00" y2="519.69" stroke="#111" stroke-width="1.8"/>
<line x1="50.84" y1="519.69" x2="57.16" y2="519.69" stroke="#111" stroke-width="1.8"/>
<rect x="63.50" y="533.36" width="9.20" height="28.94" fill="#de2a22" stroke="#111" stroke-width="1.7" stroke-linejoin="round"/>
<line x1="68.10" y1="533.36" x2="68.10" y2="525.32" stroke="#111" stroke-width="1.8"/>
<line x1="64.94" y1="525.32" x2="71.26" y2="525.32" stroke="#111" stroke-width="1.8"/>
<rect x="87.40" y="522.10" width="9.20" height="40.20" fill="#2654a6" stroke="#111" stroke-width="1.7" stroke-linejoin="round"/>
<line x1="92.00" y1="522.10" x2="92.00" y2="519.29" stroke="#111" stroke-width="1.8"/>
<line x1="88.84" y1="519.29" x2="95.16" y2="519.29" stroke="#111" stroke-width="1.8"/>
<rect x="101.60" y="490.74" width="9.20" height="71.56" fill="#de2a22" stroke="#111" stroke-width="1.7" stroke-linejoin="round"/>
<line x1="106.20" y1="490.74" x2="106.20" y2="489.94" stroke="#111" stroke-width="1.8"/>
<line x1="103.04" y1="489.94" x2="109.36" y2="489.94" stroke="#111" stroke-width="1.8"/>
<path d="M107.20 482.93L107.20 480.23M107.20 482.93L104.63 482.10M107.20 482.93L105.61 485.11M107.20 482.93L108.79 485.11M107.20 482.93L109.77 482.10" stroke="#222" stroke-width="1.05" stroke-linecap="butt" fill="none"/>
<rect x="124.90" y="522.10" width="9.20" height="40.20" fill="#2654a6" stroke="#111" stroke-width="1.7" stroke-linejoin="round"/>
<line x1="129.50" y1="522.10" x2="129.50" y2="520.09" stroke="#111" stroke-width="1.8"/>
<line x1="126.34" y1="520.09" x2="132.66" y2="520.09" stroke="#111" stroke-width="1.8"/>
<rect x="139.10" y="467.43" width="9.20" height="94.87" fill="#de2a22" stroke="#111" stroke-width="1.7" stroke-linejoin="round"/>
<line x1="143.70" y1="467.43" x2="143.70" y2="460.19" stroke="#111" stroke-width="1.8"/>
<line x1="140.54" y1="460.19" x2="146.86" y2="460.19" stroke="#111" stroke-width="1.8"/>
<path d="M144.40 453.93L144.40 451.23M144.40 453.93L141.83 453.10M144.40 453.93L142.81 456.11M144.40 453.93L145.99 456.11M144.40 453.93L146.97 453.10" stroke="#222" stroke-width="1.05" stroke-linecap="butt" fill="none"/>
<line x1="41.70" y1="563.05" x2="41.70" y2="441.70" stroke="#1a1a1a" stroke-width="1.5"/>
<line x1="37.80" y1="562.30" x2="41.70" y2="562.30" stroke="#1a1a1a" stroke-width="1.5"/>
<text x="0" y="0" font-family="Liberation Sans" font-size="9.2" font-weight="bold" text-anchor="end" fill="#222" transform="translate(37.30 565.38) scale(0.9 1)">0</text>
<line x1="37.80" y1="522.10" x2="41.70" y2="522.10" stroke="#1a1a1a" stroke-width="1.5"/>
<text x="0" y="0" font-family="Liberation Sans" font-size="9.2" font-weight="bold" text-anchor="end" fill="#222" transform="translate(37.30 525.18) scale(0.9 1)">1</text>
<line x1="37.80" y1="481.90" x2="41.70" y2="481.90" stroke="#1a1a1a" stroke-width="1.5"/>
<text x="0" y="0" font-family="Liberation Sans" font-size="9.2" font-weight="bold" text-anchor="end" fill="#222" transform="translate(37.30 484.98) scale(0.9 1)">2</text>
<line x1="37.80" y1="441.70" x2="41.70" y2="441.70" stroke="#1a1a1a" stroke-width="1.5"/>
<text x="0" y="0" font-family="Liberation Sans" font-size="9.2" font-weight="bold" text-anchor="end" fill="#222" transform="translate(37.30 444.78) scale(0.9 1)">3</text>
<line x1="40.95" y1="562.30" x2="157.20" y2="562.30" stroke="#1a1a1a" stroke-width="1.5"/>
<line x1="61.05" y1="562.30" x2="61.05" y2="566.10" stroke="#1a1a1a" stroke-width="1.5"/>
<text x="63.75" y="575.10" font-family="Liberation Sans" font-size="9.2" font-weight="bold" text-anchor="end" fill="#1a1a1a" stroke="#1a1a1a" stroke-width="0.25" transform="rotate(-45 63.75 575.10)">lnc-Lfar1</text>
<line x1="99.10" y1="562.30" x2="99.10" y2="566.10" stroke="#1a1a1a" stroke-width="1.5"/>
<text x="101.80" y="575.10" font-family="Liberation Sans" font-size="9.2" font-weight="bold" text-anchor="end" fill="#1a1a1a" stroke="#1a1a1a" stroke-width="0.25" transform="rotate(-45 101.80 575.10)">Ly6c</text>
<line x1="136.60" y1="562.30" x2="136.60" y2="566.10" stroke="#1a1a1a" stroke-width="1.5"/>
<text x="139.30" y="575.10" font-family="Liberation Sans" font-size="9.2" font-weight="bold" text-anchor="end" fill="#1a1a1a" stroke="#1a1a1a" stroke-width="0.25" transform="rotate(-45 139.30 575.10)">Il-1&#946;</text>
<text x="25.80" y="501.70" font-family="Liberation Serif" font-size="11.7" font-weight="bold" text-anchor="middle" fill="#111" stroke="#111" stroke-width="0.3" transform="rotate(-90 25.80 501.70)">Relative level of RNA</text>
<rect x="169.00" y="446.50" width="12.80" height="6.80" rx="0.6" fill="#2654a6" stroke="#111" stroke-width="1.8"/>
<text x="188.70" y="453.20" font-family="Liberation Sans" font-size="9.75" font-weight="normal" text-anchor="start" fill="#222" >Control</text>
<rect x="169.00" y="460.50" width="12.80" height="6.80" rx="0.6" fill="#de2a22" stroke="#111" stroke-width="1.8"/>
<text x="188.70" y="467.20" font-family="Liberation Sans" font-size="9.75" font-weight="normal" text-anchor="start" fill="#222" >LPS</text>
<text x="241.20" y="425.80" font-family="Liberation Sans" font-size="20" font-weight="bold" text-anchor="start" fill="#1a0f0a" >f</text>
<text x="334.60" y="436.10" font-family="Liberation Sans" font-size="14" font-weight="normal" text-anchor="middle" fill="#222" >BMM</text>
<rect x="276.80" y="551.16" width="9.20" height="7.94" fill="#2654a6" stroke="#111" stroke-width="1.7" stroke-linejoin="round"/>
<line x1="281.40" y1="551.16" x2="281.40" y2="550.92" stroke="#111" stroke-width="1.8"/>
<line x1="278.24" y1="550.92" x2="284.56" y2="550.92" stroke="#111" stroke-width="1.8"/>
<rect x="290.70" y="556.32" width="9.20" height="2.78" fill="#de2a22" stroke="#111" stroke-width="1.7" stroke-linejoin="round"/>
<line x1="295.30" y1="556.32" x2="295.30" y2="556.08" stroke="#111" stroke-width="1.8"/>
<line x1="292.14" y1="556.08" x2="298.46" y2="556.08" stroke="#111" stroke-width="1.8"/>
<path d="M295.60 546.53L295.60 543.83M295.60 546.53L293.03 545.70M295.60 546.53L294.01 548.71M295.60 546.53L297.19 548.71M295.60 546.53L298.17 545.70" stroke="#222" stroke-width="1.05" stroke-linecap="butt" fill="none"/>
<rect x="314.50" y="551.16" width="9.20" height="7.94" fill="#2654a6" stroke="#111" stroke-width="1.7" stroke-linejoin="round"/>
<line x1="319.10" y1="551.16" x2="319.10" y2="550.92" stroke="#111" stroke-width="1.8"/>
<line x1="315.94" y1="550.92" x2="322.26" y2="550.92" stroke="#111" stroke-width="1.8"/>
<rect x="328.10" y="473.98" width="9.20" height="85.12" fill="#de2a22" stroke="#111" stroke-width="1.7" stroke-linejoin="round"/>
<line x1="332.70" y1="473.98" x2="332.70" y2="466.04" stroke="#111" stroke-width="1.8"/>
<line x1="329.54" y1="466.04" x2="335.86" y2="466.04" stroke="#111" stroke-width="1.8"/>
<path d="M333.30 460.03L333.30 457.33M333.30 460.03L330.73 459.20M333.30 460.03L331.71 462.21M333.30 460.03L334.89 462.21M333.30 460.03L335.87 459.20" stroke="#222" stroke-width="1.05" stroke-linecap="butt" fill="none"/>
<rect x="351.80" y="551.16" width="9.20" height="7.94" fill="#2654a6" stroke="#111" stroke-width="1.7" stroke-linejoin="round"/>
<line x1="356.40" y1="551.16" x2="356.40" y2="551.00" stroke="#111" stroke-width="1.8"/>
<line x1="353.24" y1="551.00" x2="359.56" y2="551.00" stroke="#111" stroke-width="1.8"/>
<rect x="365.80" y="539.49" width="9.20" height="19.61" fill="#de2a22" stroke="#111" stroke-width="1.7" stroke-linejoin="round"/>
<line x1="370.40" y1="539.49" x2="370.40" y2="537.11" stroke="#111" stroke-width="1.8"/>
<line x1="367.24" y1="537.11" x2="373.56" y2="537.11" stroke="#111" stroke-width="1.8"/>
<path d="M370.30 528.33L370.30 525.63M370.30 528.33L367.73 527.50M370.30 528.33L368.71 530.51M370.30 528.33L371.89 530.51M370.30 528.33L372.87 527.50" stroke="#222" stroke-width="1.05" stroke-linecap="butt" fill="none"/>
<line x1="269.30" y1="559.85" x2="269.30" y2="440.00" stroke="#1a1a1a" stroke-width="1.5"/>
<line x1="265.40" y1="559.10" x2="269.30" y2="559.10" stroke="#1a1a1a" stroke-width="1.5"/>
<text x="0" y="0" font-family="Liberation Sans" font-size="9.2" font-weight="bold" text-anchor="end" fill="#222" transform="translate(264.90 562.18) scale(0.9 1)">0</text>
<line x1="265.40" y1="519.40" x2="269.30" y2="519.40" stroke="#1a1a1a" stroke-width="1.5"/>
<text x="0" y="0" font-family="Liberation Sans" font-size="9.2" font-weight="bold" text-anchor="end" fill="#222" transform="translate(264.90 522.48) scale(0.9 1)">5</text>
<line x1="265.40" y1="479.70" x2="269.30" y2="479.70" stroke="#1a1a1a" stroke-width="1.5"/>
<text x="0" y="0" font-family="Liberation Sans" font-size="9.2" font-weight="bold" text-anchor="end" fill="#222" transform="translate(264.90 482.78) scale(0.9 1)">10</text>
<line x1="265.40" y1="440.00" x2="269.30" y2="440.00" stroke="#1a1a1a" stroke-width="1.5"/>
<text x="0" y="0" font-family="Liberation Sans" font-size="9.2" font-weight="bold" text-anchor="end" fill="#222" transform="translate(264.90 443.08) scale(0.9 1)">15</text>
<line x1="268.55" y1="559.10" x2="383.30" y2="559.10" stroke="#1a1a1a" stroke-width="1.5"/>
<line x1="288.35" y1="559.10" x2="288.35" y2="562.90" stroke="#1a1a1a" stroke-width="1.5"/>
<text x="291.05" y="571.90" font-family="Liberation Sans" font-size="9.2" font-weight="bold" text-anchor="end" fill="#1a1a1a" stroke="#1a1a1a" stroke-width="0.25" transform="rotate(-45 291.05 571.90)">lnc-Lfar1</text>
<line x1="325.90" y1="559.10" x2="325.90" y2="562.90" stroke="#1a1a1a" stroke-width="1.5"/>
<text x="328.60" y="571.90" font-family="Liberation Sans" font-size="9.2" font-weight="bold" text-anchor="end" fill="#1a1a1a" stroke="#1a1a1a" stroke-width="0.25" transform="rotate(-45 328.60 571.90)">iNos</text>
<line x1="363.40" y1="559.10" x2="363.40" y2="562.90" stroke="#1a1a1a" stroke-width="1.5"/>
<text x="366.10" y="571.90" font-family="Liberation Sans" font-size="9.2" font-weight="bold" text-anchor="end" fill="#1a1a1a" stroke="#1a1a1a" stroke-width="0.25" transform="rotate(-45 366.10 571.90)">Mcp-1</text>
<text x="249.20" y="499.00" font-family="Liberation Serif" font-size="11.7" font-weight="bold" text-anchor="middle" fill="#111" stroke="#111" stroke-width="0.3" transform="rotate(-90 249.20 499.00)">Relative level of RNA</text>
<rect x="395.00" y="444.70" width="12.80" height="6.80" rx="0.6" fill="#2654a6" stroke="#111" stroke-width="1.8"/>
<text x="414.70" y="451.40" font-family="Liberation Sans" font-size="9.75" font-weight="normal" text-anchor="start" fill="#222" >Control</text>
<rect x="395.00" y="459.00" width="12.80" height="6.80" rx="0.6" fill="#de2a22" stroke="#111" stroke-width="1.8"/>
<text x="414.70" y="465.70" font-family="Liberation Sans" font-size="9.75" font-weight="normal" text-anchor="start" fill="#222" >IFN-<tspan font-family="Liberation Serif" font-size="10.5">&#947;</tspan></text>
<text x="474.30" y="423.90" font-family="Liberation Sans" font-size="20" font-weight="bold" text-anchor="start" fill="#1a0f0a" >g</text>
<text x="565.20" y="433.40" font-family="Liberation Sans" font-size="14" font-weight="normal" text-anchor="middle" fill="#222" >BMM</text>
<rect x="513.90" y="530.15" width="9.20" height="30.05" fill="#2654a6" stroke="#111" stroke-width="1.7" stroke-linejoin="round"/>
<line x1="518.50" y1="530.15" x2="518.50" y2="528.05" stroke="#111" stroke-width="1.8"/>
<line x1="515.34" y1="528.05" x2="521.66" y2="528.05" stroke="#111" stroke-width="1.8"/>
<rect x="528.00" y="536.46" width="9.20" height="23.74" fill="#de2a22" stroke="#111" stroke-width="1.7" stroke-linejoin="round"/>
<line x1="532.60" y1="536.46" x2="532.60" y2="534.06" stroke="#111" stroke-width="1.8"/>
<line x1="529.44" y1="534.06" x2="535.76" y2="534.06" stroke="#111" stroke-width="1.8"/>
<rect x="552.00" y="530.15" width="9.20" height="30.05" fill="#2654a6" stroke="#111" stroke-width="1.7" stroke-linejoin="round"/>
<line x1="556.60" y1="530.15" x2="556.60" y2="529.55" stroke="#111" stroke-width="1.8"/>
<line x1="553.44" y1="529.55" x2="559.76" y2="529.55" stroke="#111" stroke-width="1.8"/>
<rect x="566.30" y="487.18" width="9.20" height="73.02" fill="#de2a22" stroke="#111" stroke-width="1.7" stroke-linejoin="round"/>
<line x1="570.90" y1="487.18" x2="570.90" y2="473.06" stroke="#111" stroke-width="1.8"/>
<line x1="567.74" y1="473.06" x2="574.06" y2="473.06" stroke="#111" stroke-width="1.8"/>
<path d="M569.90 467.43L569.90 464.73M569.90 467.43L567.33 466.60M569.90 467.43L568.31 469.61M569.90 467.43L571.49 469.61M569.90 467.43L572.47 466.60" stroke="#222" stroke-width="1.05" stroke-linecap="butt" fill="none"/>
<rect x="589.50" y="530.15" width="9.20" height="30.05" fill="#2654a6" stroke="#111" stroke-width="1.7" stroke-linejoin="round"/>
<line x1="594.10" y1="530.15" x2="594.10" y2="529.55" stroke="#111" stroke-width="1.8"/>
<line x1="590.94" y1="529.55" x2="597.26" y2="529.55" stroke="#111" stroke-width="1.8"/>
<rect x="603.80" y="501.60" width="9.20" height="58.60" fill="#de2a22" stroke="#111" stroke-width="1.7" stroke-linejoin="round"/>
<line x1="608.40" y1="501.60" x2="608.40" y2="494.39" stroke="#111" stroke-width="1.8"/>
<line x1="605.24" y1="494.39" x2="611.56" y2="494.39" stroke="#111" stroke-width="1.8"/>
<path d="M608.50 487.93L608.50 485.23M608.50 487.93L605.93 487.10M608.50 487.93L606.91 490.11M608.50 487.93L610.09 490.11M608.50 487.93L611.07 487.10" stroke="#222" stroke-width="1.05" stroke-linecap="butt" fill="none"/>
<line x1="505.80" y1="560.95" x2="505.80" y2="440.00" stroke="#1a1a1a" stroke-width="1.5"/>
<line x1="501.90" y1="560.20" x2="505.80" y2="560.20" stroke="#1a1a1a" stroke-width="1.5"/>
<text x="0" y="0" font-family="Liberation Sans" font-size="9.2" font-weight="bold" text-anchor="end" fill="#222" transform="translate(501.40 563.28) scale(0.9 1)">0</text>
<line x1="501.90" y1="530.15" x2="505.80" y2="530.15" stroke="#1a1a1a" stroke-width="1.5"/>
<text x="0" y="0" font-family="Liberation Sans" font-size="9.2" font-weight="bold" text-anchor="end" fill="#222" transform="translate(501.40 533.23) scale(0.9 1)">1</text>
<line x1="501.90" y1="500.10" x2="505.80" y2="500.10" stroke="#1a1a1a" stroke-width="1.5"/>
<text x="0" y="0" font-family="Liberation Sans" font-size="9.2" font-weight="bold" text-anchor="end" fill="#222" transform="translate(501.40 503.18) scale(0.9 1)">2</text>
<line x1="501.90" y1="470.05" x2="505.80" y2="470.05" stroke="#1a1a1a" stroke-width="1.5"/>
<text x="0" y="0" font-family="Liberation Sans" font-size="9.2" font-weight="bold" text-anchor="end" fill="#222" transform="translate(501.40 473.13) scale(0.9 1)">3</text>
<line x1="501.90" y1="440.00" x2="505.80" y2="440.00" stroke="#1a1a1a" stroke-width="1.5"/>
<text x="0" y="0" font-family="Liberation Sans" font-size="9.2" font-weight="bold" text-anchor="end" fill="#222" transform="translate(501.40 443.08) scale(0.9 1)">4</text>
<line x1="505.05" y1="560.20" x2="621.50" y2="560.20" stroke="#1a1a1a" stroke-width="1.5"/>
<line x1="525.55" y1="560.20" x2="525.55" y2="564.00" stroke="#1a1a1a" stroke-width="1.5"/>
<text x="528.25" y="572.90" font-family="Liberation Sans" font-size="9.2" font-weight="bold" text-anchor="end" fill="#1a1a1a" stroke="#1a1a1a" stroke-width="0.25" transform="rotate(-45 528.25 572.90)">lnc-Lfar1</text>
<line x1="563.75" y1="560.20" x2="563.75" y2="564.00" stroke="#1a1a1a" stroke-width="1.5"/>
<text x="566.45" y="572.90" font-family="Liberation Sans" font-size="9.2" font-weight="bold" text-anchor="end" fill="#1a1a1a" stroke="#1a1a1a" stroke-width="0.25" transform="rotate(-45 566.45 572.90)">iNos</text>
<line x1="601.25" y1="560.20" x2="601.25" y2="564.00" stroke="#1a1a1a" stroke-width="1.5"/>
<text x="603.95" y="572.90" font-family="Liberation Sans" font-size="9.2" font-weight="bold" text-anchor="end" fill="#1a1a1a" stroke="#1a1a1a" stroke-width="0.25" transform="rotate(-45 603.95 572.90)">Mcp-1</text>
<text x="490.50" y="499.50" font-family="Liberation Serif" font-size="11.7" font-weight="bold" text-anchor="middle" fill="#111" stroke="#111" stroke-width="0.3" transform="rotate(-90 490.50 499.50)">Relative level of RNA</text>
<rect x="633.70" y="444.50" width="12.80" height="6.80" rx="0.6" fill="#2654a6" stroke="#111" stroke-width="1.8"/>
<text x="653.40" y="451.20" font-family="Liberation Sans" font-size="9.75" font-weight="normal" text-anchor="start" fill="#222" >Control</text>
<rect x="633.70" y="458.50" width="12.80" height="6.80" rx="0.6" fill="#de2a22" stroke="#111" stroke-width="1.8"/>
<text x="653.40" y="465.20" font-family="Liberation Sans" font-size="9.75" font-weight="normal" text-anchor="start" fill="#222" >LPS</text>
</svg>
</body></html>
